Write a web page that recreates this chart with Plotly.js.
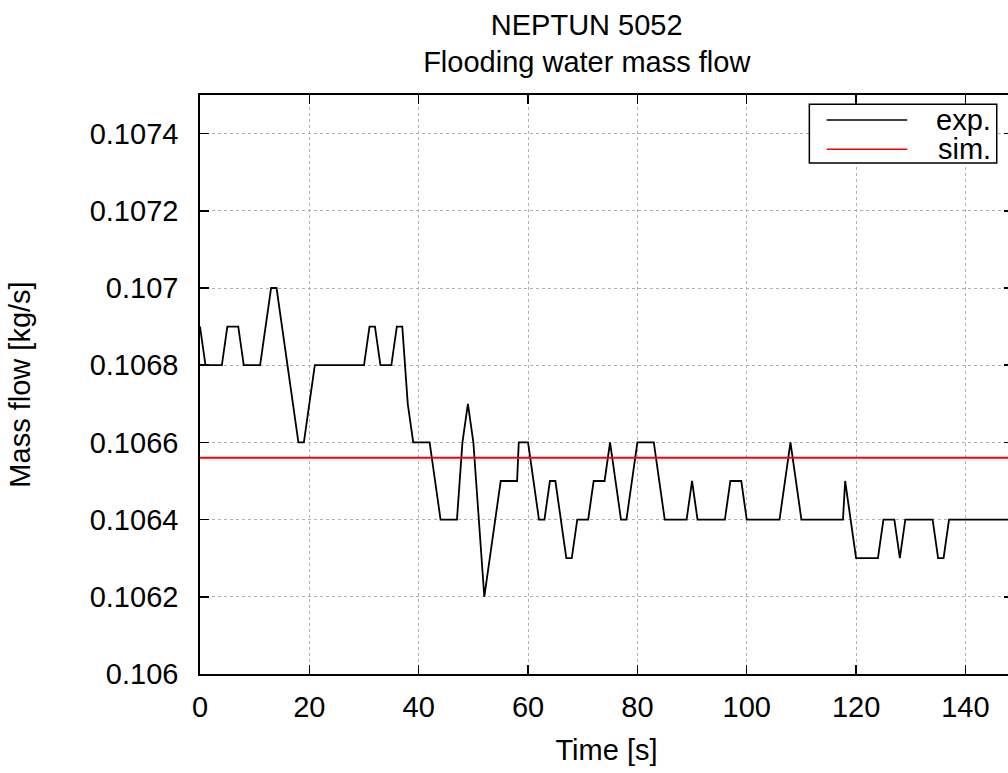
<!DOCTYPE html>
<html>
<head>
<meta charset="utf-8">
<script src="https://cdn.plot.ly/plotly-3.0.1.min.js"></script>
<style>
  html, body { margin: 0; padding: 0; background: #ffffff; overflow: hidden; }
  #chart { width: 1020px; height: 773px; }
</style>
</head>
<body>
<div id="chart"></div>
<script>
const expTime = [0, 1, 4, 5, 7, 8, 11, 13, 14, 18, 19, 21, 30, 31, 32, 33, 35, 36, 37, 38, 39,
  42, 44, 47, 48, 49, 50, 52, 55, 58, 58.3, 60, 62, 63, 64, 65, 67, 68, 69, 71, 72, 74, 75, 77,
  78, 80, 83, 85, 89, 90, 91, 96, 97, 99, 100, 106, 108, 110, 117.6, 118, 120, 124, 125, 127,
  128, 129, 134, 135, 136, 137, 150];
const expFlow = [0.1069, 0.1068, 0.1068, 0.1069, 0.1069, 0.1068, 0.1068, 0.1070, 0.1070, 0.1066,
  0.1066, 0.1068, 0.1068, 0.1069, 0.1069, 0.1068, 0.1068, 0.1069, 0.1069, 0.1067, 0.1066,
  0.1066, 0.1064, 0.1064, 0.1066, 0.1067, 0.1066, 0.1062, 0.1065, 0.1065, 0.1066, 0.1066,
  0.1064, 0.1064, 0.1065, 0.1065, 0.1063, 0.1063, 0.1064, 0.1064, 0.1065, 0.1065, 0.1066,
  0.1064, 0.1064, 0.1066, 0.1066, 0.1064, 0.1064, 0.1065, 0.1064, 0.1064, 0.1065, 0.1065,
  0.1064, 0.1064, 0.1066, 0.1064, 0.1064, 0.1065, 0.1063, 0.1063, 0.1064, 0.1064, 0.1063,
  0.1064, 0.1064, 0.1063, 0.1063, 0.1064, 0.1064];

// Simulated series (constant)
const simTime = [0, 150];
const simFlow = [0.10656, 0.10656];

// Tick labels
const xTickVals = [0, 20, 40, 60, 80, 100, 120, 140];
const xTickText = ['0', '20', '40', '60', '80', '100', '120', '140'];
const yTickVals = [0.106, 0.1062, 0.1064, 0.1066, 0.1068, 0.107, 0.1072, 0.1074];
const yTickText = ['0.106', '0.1062', '0.1064', '0.1066', '0.1068', '0.107', '0.1072', '0.1074'];

const legendNames = ['exp.', 'sim.'];
const legendColors = ['#000000', '#ff0000'];

const FONT = 'Liberation Sans, Arial, Helvetica, sans-serif';
const FS = 29;

const traces = [
  { x: expTime, y: expFlow, name: legendNames[0], type: 'scatter', mode: 'lines',
    line: { color: legendColors[0], width: 1.8 } },
  { x: simTime, y: simFlow, name: legendNames[1], type: 'scatter', mode: 'lines',
    line: { color: legendColors[1], width: 2 } }
];

// custom gnuplot-style legend (paper coordinates)
const lgBox = { x0: 0.7495, x1: 0.980, y0: 0.8826, y1: 0.984 };
const lgRows = [0.9568, 0.9062];
const shapes = [
  { type: 'rect', xref: 'paper', yref: 'paper', x0: lgBox.x0, x1: lgBox.x1, y0: lgBox.y0, y1: lgBox.y1,
    line: { color: '#000000', width: 1.5 }, fillcolor: '#ffffff', layer: 'above' }
];
const annotations = [];
legendNames.forEach((nm, i) => {
  shapes.push({ type: 'line', xref: 'paper', yref: 'paper', x0: 0.7708, x1: 0.870,
    y0: lgRows[i], y1: lgRows[i], line: { color: legendColors[i], width: 1.5 }, layer: 'above' });
  annotations.push({ xref: 'paper', yref: 'paper', x: 0.9754, y: lgRows[i], xanchor: 'right',
    yanchor: 'middle', text: nm, showarrow: false, font: { family: FONT, size: FS, color: '#000' } });
});

const axisCommon = {
  showline: true, linecolor: '#000000', linewidth: 1.8, mirror: 'allticks',
  ticks: 'inside', ticklen: 9, tickwidth: 1.5, tickcolor: '#000000',
  showgrid: true, gridcolor: '#b0b0b0', griddash: 'dot', gridwidth: 1,
  zeroline: false, tickfont: { family: FONT, size: FS, color: '#000' }
};

const layout = {
  width: 1020, height: 773,
  margin: { l: 200, r: 7, t: 95, b: 99 },
  paper_bgcolor: '#ffffff', plot_bgcolor: '#ffffff',
  showlegend: false,
  font: { family: FONT, size: FS, color: '#000' },
  title: {
    text: 'NEPTUN 5052<br>Flooding water mass flow',
    font: { family: FONT, size: FS, color: '#000' },
    xref: 'paper', x: 0.4757, xanchor: 'center',
    yref: 'container', y: 0.955, yanchor: 'top'
  },
  xaxis: Object.assign({}, axisCommon, {
    range: [0, 148.7], tickmode: 'array', tickvals: xTickVals, ticktext: xTickText,
    ticklabelstandoff: 6,
    title: { text: 'Time [s]', font: { family: FONT, size: FS, color: '#000' }, standoff: 18 }
  }),
  yaxis: Object.assign({}, axisCommon, {
    range: [0.106, 0.1075], tickmode: 'array', tickvals: yTickVals, ticktext: yTickText,
    ticklabelstandoff: 14,
    title: { text: 'Mass flow [kg/s]', font: { family: FONT, size: FS, color: '#000' }, standoff: 50 }
  }),
  shapes: shapes,
  annotations: annotations
};

Plotly.newPlot('chart', traces, layout, { displayModeBar: false, staticPlot: true });
</script>
</body>
</html>
